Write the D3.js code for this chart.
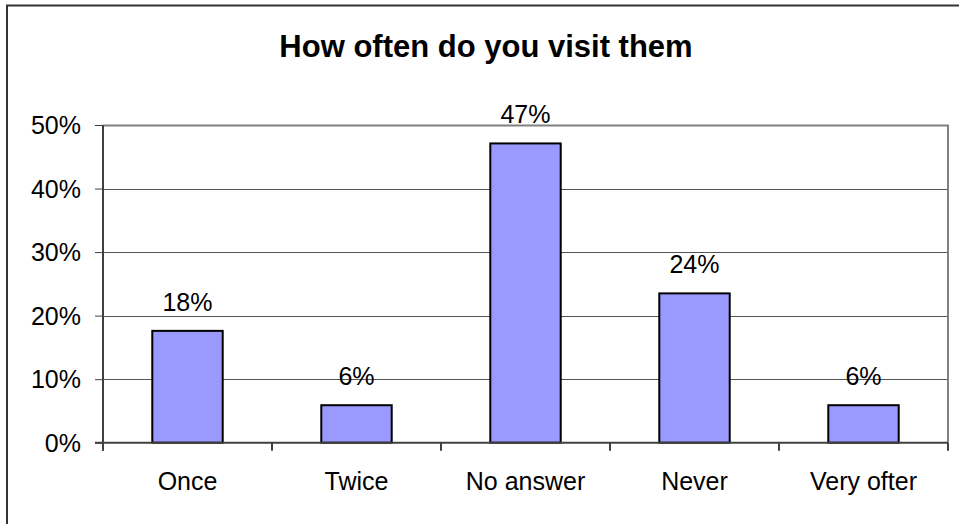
<!DOCTYPE html>
<html>
<head>
<meta charset="utf-8">
<title>How often do you visit them</title>
<style>
body { margin: 0; background: #fff; }
text { font-family: "Liberation Sans", Arial, sans-serif; fill: #000; }
.axis path, .axis line { stroke: #404040; }
</style>
</head>
<body>
<script src="https://cdn.jsdelivr.net/npm/d3@7"></script>
<script>
var title = "How often do you visit them";
var categories = ["Once", "Twice", "No answer", "Never", "Very ofter"];
var values = [17.6, 5.9, 47.1, 23.5, 5.9];
var labels = ["18%", "6%", "47%", "24%", "6%"];
var yTicks = [0, 10, 20, 30, 40, 50];

var width = 959, height = 524;
var plotL = 103, plotR = 948, plotT = 125, plotB = 442.7;
var fs = "25px";

var svg = d3.select("body").append("svg")
	.attr("width", width)
	.attr("height", height);

// outer frame (only top and left edges are visible)
svg.append("path")
	.attr("d", "M7,524V5.5H959")
	.attr("fill", "none")
	.attr("stroke", "#333")
	.attr("stroke-width", 2);

svg.append("text")
	.attr("x", 486)
	.attr("y", 57)
	.attr("text-anchor", "middle")
	.style("font-size", "31px")
	.style("font-weight", "bold")
	.text(title);

var x = d3.scaleBand().domain(categories).range([plotL, plotR]).paddingInner(0).paddingOuter(0);
var y = d3.scaleLinear().domain([0, 50]).range([plotB, plotT]);

// gridlines
svg.selectAll(".grid")
	.data(yTicks.filter(function(d){ return d > 0 && d < 50; }))
	.enter().append("line")
	.attr("x1", plotL).attr("x2", plotR)
	.attr("y1", function(d){ return Math.round(y(d)) + 0.5; })
	.attr("y2", function(d){ return Math.round(y(d)) + 0.5; })
	.attr("stroke", "#555")
	.attr("stroke-width", 1);

// plot area border top/right
svg.append("path")
	.attr("d", "M" + plotL + "," + (plotT + 0.5) + "H" + plotR + "V" + plotB)
	.attr("fill", "none")
	.attr("stroke", "#808080")
	.attr("stroke-width", 2);

// bars
var bw = x.bandwidth() / 2.4;
svg.selectAll(".bar")
	.data(values)
	.enter().append("rect")
	.attr("x", function(d, i){ return x(categories[i]) + (x.bandwidth() - bw) / 2; })
	.attr("y", function(d){ return y(d); })
	.attr("width", bw)
	.attr("height", function(d){ return plotB - y(d); })
	.attr("fill", "#9999FF")
	.attr("stroke", "#000")
	.attr("stroke-width", 2);

svg.selectAll(".vlabel")
	.data(values)
	.enter().append("text")
	.attr("x", function(d, i){ return x(categories[i]) + x.bandwidth() / 2; })
	.attr("y", function(d){ return y(d) - 20; })
	.attr("text-anchor", "middle")
	.style("font-size", fs)
	.text(function(d, i){ return labels[i]; });

// y axis
var axisY = d3.axisLeft(y).tickValues(yTicks).tickSize(8).tickPadding(14)
	.tickFormat(function(d){ return d + "%"; });
var gy = svg.append("g").attr("class", "axis")
	.attr("transform", "translate(" + plotL + ",0)")
	.call(axisY);
gy.select(".domain").attr("d", "M0," + plotT + "V" + (plotB + 8)).attr("stroke-width", 2);
gy.selectAll("text").style("font-size", fs).attr("dy", "0.35em");

// x axis
var axisX = d3.axisBottom(x).tickSize(0).tickPadding(30);
var gx = svg.append("g").attr("class", "axis")
	.attr("transform", "translate(0," + plotB + ")")
	.call(axisX);
gx.select(".domain").attr("d", "M" + (plotL - 8) + ",0H" + plotR).attr("stroke-width", 2);
gx.selectAll("text").style("font-size", fs);
gx.selectAll(".sep")
	.data(d3.range(categories.length + 1))
	.enter().append("line")
	.attr("x1", function(i){ return plotL + i * x.bandwidth(); })
	.attr("x2", function(i){ return plotL + i * x.bandwidth(); })
	.attr("y1", 0).attr("y2", 8)
	.attr("stroke", "#404040")
	.attr("stroke-width", 2);
</script>
</body>
</html>
